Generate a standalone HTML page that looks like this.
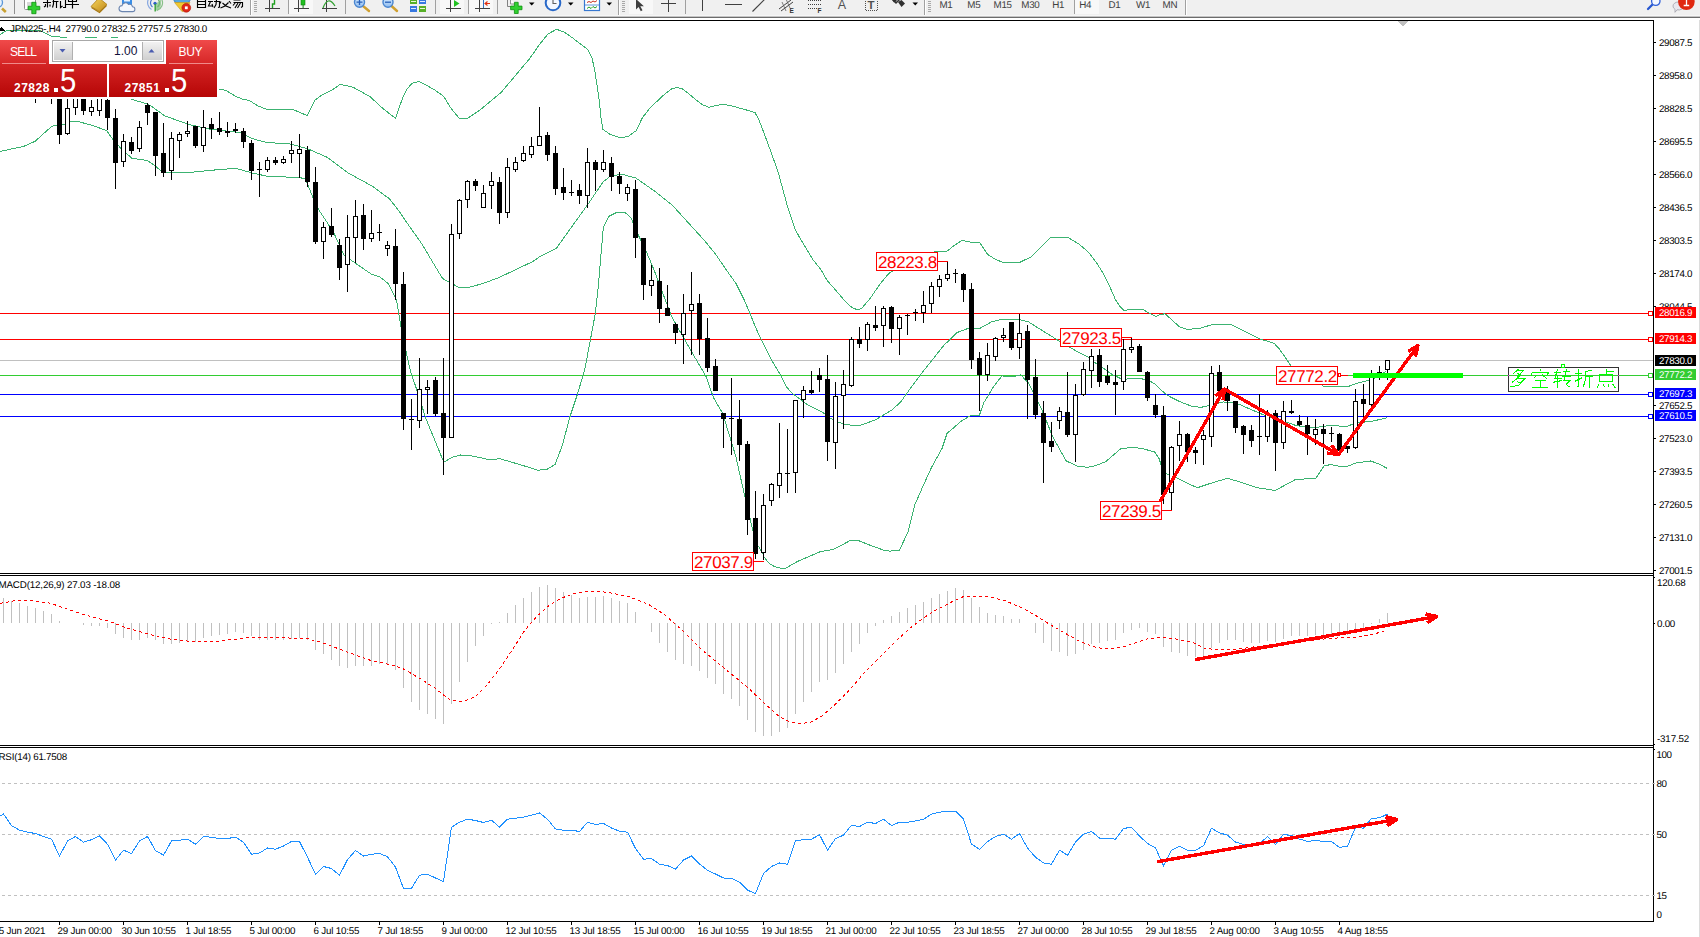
<!DOCTYPE html>
<html><head><meta charset="utf-8"><title>JPN225 H4</title>
<style>
html,body{margin:0;padding:0;background:#fff;}
body{width:1700px;height:937px;overflow:hidden;position:relative;font-family:"Liberation Sans",sans-serif;}
.t{position:absolute;white-space:pre;font-family:"Liberation Sans",sans-serif;z-index:2;text-rendering:geometricPrecision;}
svg.c{position:absolute;left:0;top:0;z-index:1;}
#tb{position:absolute;left:0;top:0;width:1700px;height:20px;z-index:4;overflow:hidden;}
</style></head><body>
<svg class="c" width="1700" height="937" viewBox="0 0 1700 937" shape-rendering="crispEdges">
<defs><clipPath id="cm"><rect x="0" y="21" width="1653" height="552"/></clipPath></defs>
<g clip-path="url(#cm)">
<rect x="0" y="313" width="1653" height="1" fill="#ff0000" />
<rect x="0" y="339" width="1653" height="1" fill="#ff0000" />
<rect x="0" y="360" width="1653" height="1" fill="#c0c0c0" />
<rect x="0" y="375" width="1653" height="1" fill="#32cd32" />
<rect x="0" y="394" width="1653" height="1" fill="#0000ff" />
<rect x="0" y="416" width="1653" height="1" fill="#0000ff" />
<polyline points="0.0,34.7 5.3,31.2 9.2,30.3 38.0,30.3 41.6,31.2 51.2,36.3 65.0,37.4 75.0,40.5 88.0,37.4 95.0,37.4 104.0,40.5 113.0,37.4 117.0,37.4 122.0,41.0 150.0,60.0 200.0,80.0 217.0,88.8 219.5,89.4 225.9,90.3 235.4,96.2 242.6,99.1 249.7,100.7 257.6,105.7 266.4,109.2 292.6,109.2 298.9,112.1 307.2,115.6 310.9,108.1 314.8,100.2 321.2,95.4 332.3,89.9 340.2,84.3 352.9,87.2 360.9,91.4 370.4,97.0 381.5,107.3 389.5,113.7 395.5,118.1 399.0,108.1 403.0,97.0 407.0,89.1 411.7,83.5 418.9,81.4 426.0,85.1 434.7,89.9 443.5,96.2 451.4,108.9 459.4,118.4 467.3,118.4 480.0,110.0 501.2,92.4 515.0,76.0 529.5,58.8 540.0,43.8 548.0,34.0 556.5,29.3 564.0,32.0 573.0,38.2 588.0,49.8 592.0,58.0 594.6,69.6 597.0,85.0 599.5,102.7 601.0,118.0 602.9,129.2 609.5,134.1 619.4,137.4 627.7,136.8 636.0,130.8 642.5,117.6 650.0,108.0 659.0,99.4 666.0,93.0 672.3,88.5 677.0,87.5 682.2,88.8 689.0,94.0 695.5,99.4 702.0,104.5 708.7,107.3 716.0,105.5 723.6,104.4 732.0,106.0 741.8,108.7 750.0,111.0 755.0,112.6 759.0,120.0 765.0,135.8 771.0,152.0 778.2,172.2 783.0,190.0 788.1,208.6 794.7,228.4 800.0,238.3 807.2,250.0 812.9,259.6 820.6,269.2 827.3,280.7 835.0,289.4 846.3,302.6 852.0,307.5 857.7,310.0 862.0,308.0 870.6,297.9 880.0,284.0 889.1,273.2 900.0,266.0 911.8,260.9 925.0,255.0 936.5,251.2 946.8,251.2 955.0,245.0 962.2,240.3 971.5,242.4 979.7,242.4 984.0,249.0 987.9,254.7 995.0,259.0 1002.4,262.3 1019.9,262.3 1031.2,256.8 1041.0,247.0 1050.7,237.6 1068.2,237.6 1079.0,244.0 1088.8,252.6 1096.0,262.0 1103.2,273.2 1110.0,287.3 1115.6,300.0 1120.0,306.5 1123.8,310.3 1133.0,309.5 1142.4,309.3 1149.0,313.0 1155.7,316.5 1160.0,314.5 1165.0,313.8 1172.0,320.0 1179.4,326.8 1187.6,329.4 1200.0,328.2 1211.0,325.0 1222.0,324.0 1231.7,325.0 1244.5,331.4 1259.4,338.9 1267.0,341.0 1274.4,343.6 1279.0,348.5 1284.0,355.6 1290.4,365.2 1300.0,378.0 1310.0,384.5 1322.0,385.0 1323.5,386.5 1348.3,386.5 1356.0,383.5 1368.9,380.4 1378.5,376.4 1386.5,370.8" fill="none" stroke="#3cb371" stroke-width="1" />
<polyline points="100.0,75.0 131.2,99.2 147.0,103.9 151.8,106.5 164.7,115.9 178.8,120.9 190.0,124.8 210.8,129.3 240.0,132.5 252.4,138.7 267.0,142.5 289.9,143.9 307.6,148.7 327.4,157.4 348.2,173.0 373.1,186.6 389.8,199.1 400.0,212.6 405.0,220.0 421.6,243.6 432.0,261.0 442.4,278.3 449.4,282.4 459.0,287.4 468.8,287.4 483.0,283.5 499.3,277.4 516.0,269.5 532.6,261.6 540.0,256.5 556.5,248.2 573.0,225.1 589.6,201.9 602.9,182.1 611.1,175.5 622.7,174.5 636.0,178.1 655.8,192.0 672.3,205.2 688.9,223.4 705.4,241.6 716.0,254.8 726.5,270.2 736.1,283.6 743.8,299.0 749.6,312.4 755.3,326.8 761.1,339.3 770.7,358.5 780.3,374.8 786.0,386.3 791.8,393.0 799.5,398.8 807.2,404.6 814.8,408.4 822.5,412.2 830.2,418.0 835.0,420.9 846.3,424.7 859.3,425.7 875.6,419.8 891.9,410.0 900.7,402.0 911.0,387.5 922.0,372.7 933.0,359.0 943.3,346.0 956.7,332.7 967.3,328.7 979.3,328.7 991.3,322.0 1002.0,319.3 1018.0,319.3 1028.7,322.0 1039.3,328.7 1060.7,342.0 1076.7,351.3 1092.7,359.3 1094.3,362.2 1102.0,367.2 1109.2,372.5 1113.0,374.9 1118.8,377.6 1121.2,379.0 1126.5,379.5 1127.9,378.5 1141.9,378.5 1142.8,379.6 1144.7,379.6 1150.0,381.2 1154.8,383.8 1159.6,388.6 1164.9,393.4 1170.0,396.8 1180.4,401.9 1193.2,406.8 1201.8,407.2 1210.3,405.1 1223.1,401.9 1235.9,402.9 1253.0,410.4 1265.8,415.8 1275.0,419.0 1284.0,421.3 1296.8,425.8 1314.4,427.7 1330.5,425.3 1346.5,426.6 1356.0,422.9 1372.0,421.3 1387.3,417.7" fill="none" stroke="#3cb371" stroke-width="1" />
<polyline points="0.0,151.4 23.5,146.5 35.3,141.2 51.8,126.2 63.5,124.7 71.8,121.2 77.0,121.2 94.0,125.9 106.5,130.6 113.0,139.4 121.2,148.8 131.8,158.2 147.0,160.4 155.3,165.9 161.8,171.8 164.7,172.7 190.0,172.4 210.8,170.3 235.8,168.3 252.4,173.0 267.0,176.2 300.3,177.6 305.5,179.3 312.8,197.0 319.0,210.1 333.6,232.4 344.0,255.2 354.4,262.5 371.1,274.0 380.0,276.9 388.3,283.8 396.6,300.5 400.8,325.4 406.4,353.2 410.5,371.2 417.5,392.0 425.8,418.4 435.5,442.0 443.8,462.2 452.1,457.2 460.5,455.0 468.8,455.3 491.0,460.0 499.3,458.6 518.7,464.2 538.2,470.3 547.5,469.1 555.0,464.6 562.4,445.2 569.9,416.8 577.4,394.4 584.9,369.0 590.8,337.6 595.3,313.6 598.3,286.7 601.3,250.8 603.4,226.9 608.8,216.4 616.3,212.6 625.2,212.6 631.2,217.9 635.7,229.9 644.7,247.8 653.6,268.8 662.6,292.7 671.6,316.6 683.5,337.6 695.5,358.5 706.0,376.4 713.4,397.4 722.6,413.3 735.6,455.6 743.7,491.4 755.1,540.3 758.0,545.8 761.8,551.6 764.4,557.5 769.7,564.0 775.0,566.7 777.9,567.6 784.4,568.9 797.5,561.4 820.3,551.7 833.3,549.4 849.6,540.9 859.3,540.9 872.3,546.1 885.4,550.7 890.0,551.1 899.4,550.1 907.7,532.8 911.8,517.2 914.9,504.7 921.2,490.2 931.6,467.3 942.0,448.6 947.2,433.0 952.4,428.9 960.7,421.6 970.0,415.8 979.4,415.3 983.6,402.9 986.0,399.3 994.0,386.0 1002.0,375.9 1012.7,376.7 1020.7,374.8 1028.7,383.3 1042.0,410.0 1052.7,436.7 1066.0,460.7 1076.7,466.0 1087.3,467.3 1095.0,465.9 1105.7,461.7 1120.6,448.9 1131.3,447.4 1142.0,448.4 1154.8,452.1 1159.1,458.5 1163.3,472.3 1176.1,477.7 1189.0,484.1 1197.5,487.7 1210.3,483.4 1227.4,478.3 1240.2,482.0 1257.3,487.7 1275.0,490.5 1295.2,479.7 1316.0,478.1 1324.0,466.1 1330.5,464.5 1338.5,466.1 1348.0,466.1 1356.0,462.9 1370.5,461.0 1378.5,463.7 1387.3,468.5" fill="none" stroke="#3cb371" stroke-width="1" />
<rect x="35" y="90" width="1" height="13" fill="#000" />
<rect x="33" y="90" width="5" height="1" fill="#000" />
<rect x="51" y="90" width="1" height="14" fill="#000" />
<rect x="49" y="90" width="5" height="1" fill="#000" />
<rect x="59" y="90" width="1" height="54" fill="#000" />
<rect x="57" y="90" width="5" height="45" fill="#000" />
<rect x="67" y="90" width="1" height="45" fill="#000" />
<rect x="65" y="108" width="5" height="26" fill="#000" />
<rect x="66" y="109" width="3" height="24" fill="#fff" />
<rect x="75" y="90" width="1" height="25" fill="#000" />
<rect x="73" y="90" width="5" height="18" fill="#000" />
<rect x="74" y="91" width="3" height="16" fill="#fff" />
<rect x="83" y="90" width="1" height="25" fill="#000" />
<rect x="81" y="90" width="5" height="21" fill="#000" />
<rect x="91" y="100" width="1" height="16" fill="#000" />
<rect x="89" y="107" width="5" height="5" fill="#000" />
<rect x="90" y="108" width="3" height="3" fill="#fff" />
<rect x="99" y="90" width="1" height="26" fill="#000" />
<rect x="97" y="90" width="5" height="21" fill="#000" />
<rect x="98" y="91" width="3" height="19" fill="#fff" />
<rect x="107" y="90" width="1" height="40" fill="#000" />
<rect x="105" y="100" width="5" height="18" fill="#000" />
<rect x="115" y="109" width="1" height="80" fill="#000" />
<rect x="113" y="118" width="5" height="45" fill="#000" />
<rect x="123" y="134" width="1" height="33" fill="#000" />
<rect x="121" y="141" width="5" height="21" fill="#000" />
<rect x="122" y="142" width="3" height="19" fill="#fff" />
<rect x="131" y="137" width="1" height="17" fill="#000" />
<rect x="129" y="142" width="5" height="9" fill="#000" />
<rect x="139" y="121" width="1" height="31" fill="#000" />
<rect x="137" y="127" width="5" height="22" fill="#000" />
<rect x="138" y="128" width="3" height="20" fill="#fff" />
<rect x="147" y="103" width="1" height="22" fill="#000" />
<rect x="145" y="105" width="5" height="8" fill="#000" />
<rect x="155" y="112" width="1" height="64" fill="#000" />
<rect x="153" y="112" width="5" height="44" fill="#000" />
<rect x="163" y="123" width="1" height="54" fill="#000" />
<rect x="161" y="153" width="5" height="20" fill="#000" />
<rect x="171" y="132" width="1" height="48" fill="#000" />
<rect x="169" y="138" width="5" height="33" fill="#000" />
<rect x="170" y="139" width="3" height="31" fill="#fff" />
<rect x="179" y="132" width="1" height="26" fill="#000" />
<rect x="177" y="134" width="5" height="7" fill="#000" />
<rect x="178" y="135" width="3" height="5" fill="#fff" />
<rect x="187" y="121" width="1" height="16" fill="#000" />
<rect x="185" y="131" width="5" height="3" fill="#000" />
<rect x="186" y="132" width="3" height="1" fill="#fff" />
<rect x="195" y="126" width="1" height="22" fill="#000" />
<rect x="193" y="126" width="5" height="20" fill="#000" />
<rect x="203" y="110" width="1" height="42" fill="#000" />
<rect x="201" y="127" width="5" height="19" fill="#000" />
<rect x="202" y="128" width="3" height="17" fill="#fff" />
<rect x="211" y="118" width="1" height="21" fill="#000" />
<rect x="209" y="124" width="5" height="5" fill="#000" />
<rect x="219" y="112" width="1" height="23" fill="#000" />
<rect x="217" y="128" width="5" height="4" fill="#000" />
<rect x="227" y="122" width="1" height="15" fill="#000" />
<rect x="225" y="131" width="5" height="2" fill="#000" />
<rect x="235" y="123" width="1" height="10" fill="#000" />
<rect x="233" y="129" width="5" height="2" fill="#000" />
<rect x="243" y="128" width="1" height="20" fill="#000" />
<rect x="241" y="131" width="5" height="11" fill="#000" />
<rect x="251" y="140" width="1" height="40" fill="#000" />
<rect x="249" y="143" width="5" height="28" fill="#000" />
<rect x="259" y="162" width="1" height="35" fill="#000" />
<rect x="257" y="169" width="5" height="1" fill="#000" />
<rect x="267" y="157" width="1" height="15" fill="#000" />
<rect x="265" y="160" width="5" height="10" fill="#000" />
<rect x="266" y="161" width="3" height="8" fill="#fff" />
<rect x="275" y="157" width="1" height="8" fill="#000" />
<rect x="273" y="160" width="5" height="3" fill="#000" />
<rect x="283" y="156" width="1" height="8" fill="#000" />
<rect x="281" y="159" width="5" height="4" fill="#000" />
<rect x="282" y="160" width="3" height="2" fill="#fff" />
<rect x="291" y="141" width="1" height="22" fill="#000" />
<rect x="289" y="150" width="5" height="4" fill="#000" />
<rect x="290" y="151" width="3" height="2" fill="#fff" />
<rect x="299" y="134" width="1" height="44" fill="#000" />
<rect x="297" y="149" width="5" height="5" fill="#000" />
<rect x="298" y="150" width="3" height="3" fill="#fff" />
<rect x="307" y="146" width="1" height="41" fill="#000" />
<rect x="305" y="150" width="5" height="32" fill="#000" />
<rect x="315" y="167" width="1" height="77" fill="#000" />
<rect x="313" y="182" width="5" height="60" fill="#000" />
<rect x="323" y="222" width="1" height="37" fill="#000" />
<rect x="321" y="227" width="5" height="15" fill="#000" />
<rect x="322" y="228" width="3" height="13" fill="#fff" />
<rect x="331" y="208" width="1" height="29" fill="#000" />
<rect x="329" y="226" width="5" height="9" fill="#000" />
<rect x="339" y="239" width="1" height="41" fill="#000" />
<rect x="337" y="245" width="5" height="23" fill="#000" />
<rect x="347" y="215" width="1" height="77" fill="#000" />
<rect x="345" y="237" width="5" height="28" fill="#000" />
<rect x="346" y="238" width="3" height="26" fill="#fff" />
<rect x="355" y="200" width="1" height="63" fill="#000" />
<rect x="353" y="216" width="5" height="22" fill="#000" />
<rect x="354" y="217" width="3" height="20" fill="#fff" />
<rect x="363" y="204" width="1" height="46" fill="#000" />
<rect x="361" y="215" width="5" height="24" fill="#000" />
<rect x="371" y="210" width="1" height="32" fill="#000" />
<rect x="369" y="233" width="5" height="6" fill="#000" />
<rect x="370" y="234" width="3" height="4" fill="#fff" />
<rect x="379" y="224" width="1" height="17" fill="#000" />
<rect x="377" y="232" width="5" height="1" fill="#000" />
<rect x="387" y="241" width="1" height="15" fill="#000" />
<rect x="385" y="245" width="5" height="4" fill="#000" />
<rect x="386" y="246" width="3" height="2" fill="#fff" />
<rect x="395" y="229" width="1" height="71" fill="#000" />
<rect x="393" y="246" width="5" height="38" fill="#000" />
<rect x="403" y="272" width="1" height="158" fill="#000" />
<rect x="401" y="284" width="5" height="135" fill="#000" />
<rect x="411" y="399" width="1" height="51" fill="#000" />
<rect x="409" y="419" width="5" height="1" fill="#000" />
<rect x="419" y="358" width="1" height="70" fill="#000" />
<rect x="417" y="389" width="5" height="32" fill="#000" />
<rect x="418" y="390" width="3" height="30" fill="#fff" />
<rect x="427" y="380" width="1" height="34" fill="#000" />
<rect x="425" y="387" width="5" height="3" fill="#000" />
<rect x="426" y="388" width="3" height="1" fill="#fff" />
<rect x="435" y="377" width="1" height="39" fill="#000" />
<rect x="433" y="380" width="5" height="34" fill="#000" />
<rect x="443" y="358" width="1" height="117" fill="#000" />
<rect x="441" y="413" width="5" height="25" fill="#000" />
<rect x="451" y="224" width="1" height="214" fill="#000" />
<rect x="449" y="234" width="5" height="204" fill="#000" />
<rect x="450" y="235" width="3" height="202" fill="#fff" />
<rect x="459" y="199" width="1" height="40" fill="#000" />
<rect x="457" y="200" width="5" height="34" fill="#000" />
<rect x="458" y="201" width="3" height="32" fill="#fff" />
<rect x="467" y="180" width="1" height="28" fill="#000" />
<rect x="465" y="181" width="5" height="19" fill="#000" />
<rect x="466" y="182" width="3" height="17" fill="#fff" />
<rect x="475" y="179" width="1" height="12" fill="#000" />
<rect x="473" y="181" width="5" height="5" fill="#000" />
<rect x="483" y="185" width="1" height="23" fill="#000" />
<rect x="481" y="193" width="5" height="15" fill="#000" />
<rect x="482" y="194" width="3" height="13" fill="#fff" />
<rect x="491" y="172" width="1" height="37" fill="#000" />
<rect x="489" y="181" width="5" height="5" fill="#000" />
<rect x="490" y="182" width="3" height="3" fill="#fff" />
<rect x="499" y="177" width="1" height="47" fill="#000" />
<rect x="497" y="182" width="5" height="31" fill="#000" />
<rect x="507" y="158" width="1" height="60" fill="#000" />
<rect x="505" y="167" width="5" height="46" fill="#000" />
<rect x="506" y="168" width="3" height="44" fill="#fff" />
<rect x="515" y="157" width="1" height="15" fill="#000" />
<rect x="513" y="162" width="5" height="8" fill="#000" />
<rect x="514" y="163" width="3" height="6" fill="#fff" />
<rect x="523" y="146" width="1" height="16" fill="#000" />
<rect x="521" y="153" width="5" height="8" fill="#000" />
<rect x="522" y="154" width="3" height="6" fill="#fff" />
<rect x="531" y="137" width="1" height="21" fill="#000" />
<rect x="529" y="146" width="5" height="9" fill="#000" />
<rect x="530" y="147" width="3" height="7" fill="#fff" />
<rect x="539" y="107" width="1" height="39" fill="#000" />
<rect x="537" y="136" width="5" height="10" fill="#000" />
<rect x="538" y="137" width="3" height="8" fill="#fff" />
<rect x="547" y="132" width="1" height="29" fill="#000" />
<rect x="545" y="135" width="5" height="20" fill="#000" />
<rect x="555" y="146" width="1" height="49" fill="#000" />
<rect x="553" y="153" width="5" height="36" fill="#000" />
<rect x="563" y="168" width="1" height="32" fill="#000" />
<rect x="561" y="187" width="5" height="6" fill="#000" />
<rect x="571" y="180" width="1" height="16" fill="#000" />
<rect x="569" y="192" width="5" height="1" fill="#000" />
<rect x="579" y="184" width="1" height="20" fill="#000" />
<rect x="577" y="190" width="5" height="6" fill="#000" />
<rect x="587" y="148" width="1" height="60" fill="#000" />
<rect x="585" y="162" width="5" height="34" fill="#000" />
<rect x="586" y="163" width="3" height="32" fill="#fff" />
<rect x="595" y="160" width="1" height="31" fill="#000" />
<rect x="593" y="162" width="5" height="8" fill="#000" />
<rect x="603" y="150" width="1" height="22" fill="#000" />
<rect x="601" y="162" width="5" height="8" fill="#000" />
<rect x="602" y="163" width="3" height="6" fill="#fff" />
<rect x="611" y="157" width="1" height="34" fill="#000" />
<rect x="609" y="163" width="5" height="14" fill="#000" />
<rect x="619" y="172" width="1" height="22" fill="#000" />
<rect x="617" y="176" width="5" height="8" fill="#000" />
<rect x="627" y="184" width="1" height="17" fill="#000" />
<rect x="625" y="187" width="5" height="7" fill="#000" />
<rect x="626" y="188" width="3" height="5" fill="#fff" />
<rect x="635" y="180" width="1" height="78" fill="#000" />
<rect x="633" y="189" width="5" height="49" fill="#000" />
<rect x="643" y="238" width="1" height="62" fill="#000" />
<rect x="641" y="238" width="5" height="47" fill="#000" />
<rect x="651" y="265" width="1" height="31" fill="#000" />
<rect x="649" y="280" width="5" height="6" fill="#000" />
<rect x="650" y="281" width="3" height="4" fill="#fff" />
<rect x="659" y="268" width="1" height="55" fill="#000" />
<rect x="657" y="281" width="5" height="28" fill="#000" />
<rect x="667" y="285" width="1" height="31" fill="#000" />
<rect x="665" y="308" width="5" height="8" fill="#000" />
<rect x="675" y="323" width="1" height="21" fill="#000" />
<rect x="673" y="324" width="5" height="9" fill="#000" />
<rect x="683" y="294" width="1" height="70" fill="#000" />
<rect x="681" y="313" width="5" height="22" fill="#000" />
<rect x="682" y="314" width="3" height="20" fill="#fff" />
<rect x="691" y="272" width="1" height="83" fill="#000" />
<rect x="689" y="304" width="5" height="7" fill="#000" />
<rect x="690" y="305" width="3" height="5" fill="#fff" />
<rect x="699" y="294" width="1" height="61" fill="#000" />
<rect x="697" y="303" width="5" height="36" fill="#000" />
<rect x="707" y="318" width="1" height="54" fill="#000" />
<rect x="705" y="338" width="5" height="30" fill="#000" />
<rect x="715" y="359" width="1" height="32" fill="#000" />
<rect x="713" y="366" width="5" height="25" fill="#000" />
<rect x="723" y="413" width="1" height="35" fill="#000" />
<rect x="721" y="413" width="5" height="6" fill="#000" />
<rect x="731" y="378" width="1" height="77" fill="#000" />
<rect x="729" y="418" width="5" height="1" fill="#000" />
<rect x="739" y="400" width="1" height="61" fill="#000" />
<rect x="737" y="419" width="5" height="26" fill="#000" />
<rect x="747" y="441" width="1" height="94" fill="#000" />
<rect x="745" y="444" width="5" height="76" fill="#000" />
<rect x="755" y="491" width="1" height="68" fill="#000" />
<rect x="753" y="518" width="5" height="36" fill="#000" />
<rect x="763" y="494" width="1" height="66" fill="#000" />
<rect x="761" y="505" width="5" height="48" fill="#000" />
<rect x="762" y="506" width="3" height="46" fill="#fff" />
<rect x="771" y="483" width="1" height="23" fill="#000" />
<rect x="769" y="484" width="5" height="17" fill="#000" />
<rect x="770" y="485" width="3" height="15" fill="#fff" />
<rect x="779" y="423" width="1" height="75" fill="#000" />
<rect x="777" y="473" width="5" height="13" fill="#000" />
<rect x="778" y="474" width="3" height="11" fill="#fff" />
<rect x="787" y="429" width="1" height="64" fill="#000" />
<rect x="785" y="473" width="5" height="1" fill="#000" />
<rect x="795" y="400" width="1" height="93" fill="#000" />
<rect x="793" y="400" width="5" height="73" fill="#000" />
<rect x="794" y="401" width="3" height="71" fill="#fff" />
<rect x="803" y="386" width="1" height="32" fill="#000" />
<rect x="801" y="390" width="5" height="10" fill="#000" />
<rect x="802" y="391" width="3" height="8" fill="#fff" />
<rect x="811" y="371" width="1" height="23" fill="#000" />
<rect x="809" y="390" width="5" height="3" fill="#000" />
<rect x="819" y="368" width="1" height="24" fill="#000" />
<rect x="817" y="375" width="5" height="5" fill="#000" />
<rect x="827" y="355" width="1" height="106" fill="#000" />
<rect x="825" y="379" width="5" height="63" fill="#000" />
<rect x="835" y="382" width="1" height="87" fill="#000" />
<rect x="833" y="396" width="5" height="47" fill="#000" />
<rect x="834" y="397" width="3" height="45" fill="#fff" />
<rect x="843" y="370" width="1" height="59" fill="#000" />
<rect x="841" y="384" width="5" height="12" fill="#000" />
<rect x="842" y="385" width="3" height="10" fill="#fff" />
<rect x="851" y="337" width="1" height="50" fill="#000" />
<rect x="849" y="339" width="5" height="47" fill="#000" />
<rect x="850" y="340" width="3" height="45" fill="#fff" />
<rect x="859" y="327" width="1" height="21" fill="#000" />
<rect x="857" y="339" width="5" height="5" fill="#000" />
<rect x="867" y="322" width="1" height="29" fill="#000" />
<rect x="865" y="324" width="5" height="16" fill="#000" />
<rect x="866" y="325" width="3" height="14" fill="#fff" />
<rect x="875" y="306" width="1" height="25" fill="#000" />
<rect x="873" y="325" width="5" height="3" fill="#000" />
<rect x="883" y="306" width="1" height="41" fill="#000" />
<rect x="881" y="308" width="5" height="18" fill="#000" />
<rect x="882" y="309" width="3" height="16" fill="#fff" />
<rect x="891" y="306" width="1" height="37" fill="#000" />
<rect x="889" y="307" width="5" height="22" fill="#000" />
<rect x="899" y="315" width="1" height="40" fill="#000" />
<rect x="897" y="317" width="5" height="12" fill="#000" />
<rect x="898" y="318" width="3" height="10" fill="#fff" />
<rect x="907" y="314" width="1" height="21" fill="#000" />
<rect x="905" y="315" width="5" height="1" fill="#000" />
<rect x="915" y="309" width="1" height="12" fill="#000" />
<rect x="913" y="312" width="5" height="1" fill="#000" />
<rect x="923" y="291" width="1" height="32" fill="#000" />
<rect x="921" y="305" width="5" height="8" fill="#000" />
<rect x="922" y="306" width="3" height="6" fill="#fff" />
<rect x="931" y="282" width="1" height="31" fill="#000" />
<rect x="929" y="286" width="5" height="18" fill="#000" />
<rect x="930" y="287" width="3" height="16" fill="#fff" />
<rect x="939" y="275" width="1" height="22" fill="#000" />
<rect x="937" y="279" width="5" height="8" fill="#000" />
<rect x="938" y="280" width="3" height="6" fill="#fff" />
<rect x="947" y="261" width="1" height="20" fill="#000" />
<rect x="945" y="274" width="5" height="5" fill="#000" />
<rect x="946" y="275" width="3" height="3" fill="#fff" />
<rect x="955" y="269" width="1" height="14" fill="#000" />
<rect x="953" y="273" width="5" height="1" fill="#000" />
<rect x="963" y="273" width="1" height="29" fill="#000" />
<rect x="961" y="274" width="5" height="16" fill="#000" />
<rect x="971" y="283" width="1" height="86" fill="#000" />
<rect x="969" y="289" width="5" height="71" fill="#000" />
<rect x="979" y="352" width="1" height="59" fill="#000" />
<rect x="977" y="358" width="5" height="17" fill="#000" />
<rect x="987" y="343" width="1" height="38" fill="#000" />
<rect x="985" y="355" width="5" height="20" fill="#000" />
<rect x="986" y="356" width="3" height="18" fill="#fff" />
<rect x="995" y="337" width="1" height="24" fill="#000" />
<rect x="993" y="338" width="5" height="19" fill="#000" />
<rect x="994" y="339" width="3" height="17" fill="#fff" />
<rect x="1003" y="328" width="1" height="14" fill="#000" />
<rect x="1001" y="335" width="5" height="3" fill="#000" />
<rect x="1002" y="336" width="3" height="1" fill="#fff" />
<rect x="1011" y="322" width="1" height="28" fill="#000" />
<rect x="1009" y="322" width="5" height="26" fill="#000" />
<rect x="1019" y="314" width="1" height="45" fill="#000" />
<rect x="1017" y="333" width="5" height="15" fill="#000" />
<rect x="1018" y="334" width="3" height="13" fill="#fff" />
<rect x="1027" y="325" width="1" height="94" fill="#000" />
<rect x="1025" y="331" width="5" height="49" fill="#000" />
<rect x="1035" y="359" width="1" height="60" fill="#000" />
<rect x="1033" y="377" width="5" height="38" fill="#000" />
<rect x="1043" y="401" width="1" height="82" fill="#000" />
<rect x="1041" y="413" width="5" height="30" fill="#000" />
<rect x="1051" y="422" width="1" height="30" fill="#000" />
<rect x="1049" y="441" width="5" height="6" fill="#000" />
<rect x="1059" y="407" width="1" height="22" fill="#000" />
<rect x="1057" y="411" width="5" height="10" fill="#000" />
<rect x="1058" y="412" width="3" height="8" fill="#fff" />
<rect x="1067" y="372" width="1" height="65" fill="#000" />
<rect x="1065" y="412" width="5" height="23" fill="#000" />
<rect x="1075" y="384" width="1" height="78" fill="#000" />
<rect x="1073" y="395" width="5" height="40" fill="#000" />
<rect x="1074" y="396" width="3" height="38" fill="#fff" />
<rect x="1083" y="362" width="1" height="34" fill="#000" />
<rect x="1081" y="369" width="5" height="26" fill="#000" />
<rect x="1082" y="370" width="3" height="24" fill="#fff" />
<rect x="1091" y="349" width="1" height="39" fill="#000" />
<rect x="1089" y="356" width="5" height="15" fill="#000" />
<rect x="1090" y="357" width="3" height="13" fill="#fff" />
<rect x="1099" y="349" width="1" height="38" fill="#000" />
<rect x="1097" y="355" width="5" height="27" fill="#000" />
<rect x="1107" y="365" width="1" height="20" fill="#000" />
<rect x="1105" y="376" width="5" height="7" fill="#000" />
<rect x="1115" y="370" width="1" height="45" fill="#000" />
<rect x="1113" y="382" width="5" height="3" fill="#000" />
<rect x="1123" y="339" width="1" height="51" fill="#000" />
<rect x="1121" y="349" width="5" height="33" fill="#000" />
<rect x="1122" y="350" width="3" height="31" fill="#fff" />
<rect x="1131" y="337" width="1" height="16" fill="#000" />
<rect x="1129" y="347" width="5" height="3" fill="#000" />
<rect x="1130" y="348" width="3" height="1" fill="#fff" />
<rect x="1139" y="344" width="1" height="28" fill="#000" />
<rect x="1137" y="346" width="5" height="26" fill="#000" />
<rect x="1147" y="371" width="1" height="30" fill="#000" />
<rect x="1145" y="372" width="5" height="26" fill="#000" />
<rect x="1155" y="394" width="1" height="24" fill="#000" />
<rect x="1153" y="405" width="5" height="10" fill="#000" />
<rect x="1163" y="406" width="1" height="98" fill="#000" />
<rect x="1161" y="415" width="5" height="80" fill="#000" />
<rect x="1171" y="446" width="1" height="64" fill="#000" />
<rect x="1169" y="447" width="5" height="46" fill="#000" />
<rect x="1170" y="448" width="3" height="44" fill="#fff" />
<rect x="1179" y="421" width="1" height="40" fill="#000" />
<rect x="1177" y="434" width="5" height="12" fill="#000" />
<rect x="1178" y="435" width="3" height="10" fill="#fff" />
<rect x="1187" y="433" width="1" height="29" fill="#000" />
<rect x="1185" y="434" width="5" height="18" fill="#000" />
<rect x="1195" y="447" width="1" height="17" fill="#000" />
<rect x="1193" y="450" width="5" height="3" fill="#000" />
<rect x="1203" y="430" width="1" height="35" fill="#000" />
<rect x="1201" y="435" width="5" height="5" fill="#000" />
<rect x="1202" y="436" width="3" height="3" fill="#fff" />
<rect x="1211" y="366" width="1" height="81" fill="#000" />
<rect x="1209" y="373" width="5" height="64" fill="#000" />
<rect x="1210" y="374" width="3" height="62" fill="#fff" />
<rect x="1219" y="365" width="1" height="26" fill="#000" />
<rect x="1217" y="372" width="5" height="19" fill="#000" />
<rect x="1227" y="386" width="1" height="25" fill="#000" />
<rect x="1225" y="391" width="5" height="10" fill="#000" />
<rect x="1235" y="401" width="1" height="32" fill="#000" />
<rect x="1233" y="401" width="5" height="27" fill="#000" />
<rect x="1243" y="425" width="1" height="29" fill="#000" />
<rect x="1241" y="426" width="5" height="9" fill="#000" />
<rect x="1251" y="425" width="1" height="22" fill="#000" />
<rect x="1249" y="430" width="5" height="11" fill="#000" />
<rect x="1259" y="394" width="1" height="61" fill="#000" />
<rect x="1257" y="436" width="5" height="1" fill="#000" />
<rect x="1267" y="410" width="1" height="32" fill="#000" />
<rect x="1265" y="413" width="5" height="24" fill="#000" />
<rect x="1266" y="414" width="3" height="22" fill="#fff" />
<rect x="1275" y="410" width="1" height="61" fill="#000" />
<rect x="1273" y="413" width="5" height="30" fill="#000" />
<rect x="1283" y="401" width="1" height="48" fill="#000" />
<rect x="1281" y="411" width="5" height="32" fill="#000" />
<rect x="1282" y="412" width="3" height="30" fill="#fff" />
<rect x="1291" y="400" width="1" height="14" fill="#000" />
<rect x="1289" y="411" width="5" height="2" fill="#000" />
<rect x="1299" y="415" width="1" height="11" fill="#000" />
<rect x="1297" y="421" width="5" height="4" fill="#000" />
<rect x="1307" y="417" width="1" height="38" fill="#000" />
<rect x="1305" y="425" width="5" height="9" fill="#000" />
<rect x="1315" y="419" width="1" height="26" fill="#000" />
<rect x="1313" y="429" width="5" height="6" fill="#000" />
<rect x="1314" y="430" width="3" height="4" fill="#fff" />
<rect x="1323" y="424" width="1" height="40" fill="#000" />
<rect x="1321" y="429" width="5" height="5" fill="#000" />
<rect x="1331" y="427" width="1" height="15" fill="#000" />
<rect x="1329" y="433" width="5" height="1" fill="#000" />
<rect x="1339" y="433" width="1" height="21" fill="#000" />
<rect x="1337" y="434" width="5" height="17" fill="#000" />
<rect x="1347" y="446" width="1" height="7" fill="#000" />
<rect x="1345" y="446" width="5" height="3" fill="#000" />
<rect x="1355" y="389" width="1" height="60" fill="#000" />
<rect x="1353" y="401" width="5" height="47" fill="#000" />
<rect x="1354" y="402" width="3" height="45" fill="#fff" />
<rect x="1363" y="384" width="1" height="35" fill="#000" />
<rect x="1361" y="399" width="5" height="5" fill="#000" />
<rect x="1371" y="370" width="1" height="37" fill="#000" />
<rect x="1369" y="373" width="5" height="32" fill="#000" />
<rect x="1370" y="374" width="3" height="30" fill="#fff" />
<rect x="1379" y="366" width="1" height="14" fill="#000" />
<rect x="1377" y="372" width="5" height="2" fill="#000" />
<rect x="1387" y="360" width="1" height="20" fill="#000" />
<rect x="1385" y="360" width="5" height="10" fill="#000" />
<rect x="1386" y="361" width="3" height="8" fill="#fff" />
</g>
<rect x="0" y="20" width="1654" height="1" fill="#000" />
<rect x="1653" y="20" width="1" height="902" fill="#000" />
<rect x="0" y="573" width="1654" height="1" fill="#000" />
<rect x="0" y="575" width="1654" height="1" fill="#000" />
<rect x="0" y="745" width="1654" height="1" fill="#000" />
<rect x="0" y="747" width="1654" height="1" fill="#000" />
<rect x="0" y="921" width="1654" height="1" fill="#000" />
<rect x="1654" y="42" width="2" height="1" fill="#000" />
<rect x="1654" y="75" width="2" height="1" fill="#000" />
<rect x="1654" y="108" width="2" height="1" fill="#000" />
<rect x="1654" y="141" width="2" height="1" fill="#000" />
<rect x="1654" y="174" width="2" height="1" fill="#000" />
<rect x="1654" y="207" width="2" height="1" fill="#000" />
<rect x="1654" y="240" width="2" height="1" fill="#000" />
<rect x="1654" y="273" width="2" height="1" fill="#000" />
<rect x="1654" y="306" width="2" height="1" fill="#000" />
<rect x="1654" y="405" width="2" height="1" fill="#000" />
<rect x="1654" y="438" width="2" height="1" fill="#000" />
<rect x="1654" y="471" width="2" height="1" fill="#000" />
<rect x="1654" y="504" width="2" height="1" fill="#000" />
<rect x="1654" y="537" width="2" height="1" fill="#000" />
<rect x="1654" y="570" width="2" height="1" fill="#000" />
<rect x="1648.5" y="311.5" width="4" height="4" fill="#fff" stroke="#ff0000" stroke-width="1"/>
<rect x="1648.5" y="337.5" width="4" height="4" fill="#fff" stroke="#ff0000" stroke-width="1"/>
<rect x="1648.5" y="373.5" width="4" height="4" fill="#fff" stroke="#32cd32" stroke-width="1"/>
<rect x="1648.5" y="392.5" width="4" height="4" fill="#fff" stroke="#0000ff" stroke-width="1"/>
<rect x="1648.5" y="414.5" width="4" height="4" fill="#fff" stroke="#0000ff" stroke-width="1"/>
<rect x="1654" y="623" width="1" height="1" fill="#000" />
<rect x="1654" y="577" width="1" height="1" fill="#000" />
<rect x="1654" y="744" width="1" height="1" fill="#000" />
<rect x="1654" y="749" width="1" height="1" fill="#000" />
<line x1="2" y1="783.5" x2="1655" y2="783.5" stroke="#c0c0c0" stroke-width="1" stroke-dasharray="3,3"/>
<line x1="2" y1="834.5" x2="1655" y2="834.5" stroke="#c0c0c0" stroke-width="1" stroke-dasharray="3,3"/>
<line x1="2" y1="895.5" x2="1655" y2="895.5" stroke="#c0c0c0" stroke-width="1" stroke-dasharray="3,3"/>
<rect x="3" y="598" width="1" height="25" fill="#c0c0c0" />
<rect x="11" y="601" width="1" height="22" fill="#c0c0c0" />
<rect x="19" y="603" width="1" height="20" fill="#c0c0c0" />
<rect x="27" y="606" width="1" height="17" fill="#c0c0c0" />
<rect x="35" y="608" width="1" height="15" fill="#c0c0c0" />
<rect x="43" y="611" width="1" height="12" fill="#c0c0c0" />
<rect x="51" y="614" width="1" height="9" fill="#c0c0c0" />
<rect x="59" y="621" width="1" height="2" fill="#c0c0c0" />
<rect x="83" y="623" width="1" height="2" fill="#c0c0c0" />
<rect x="91" y="623" width="1" height="3" fill="#c0c0c0" />
<rect x="99" y="623" width="1" height="3" fill="#c0c0c0" />
<rect x="107" y="623" width="1" height="5" fill="#c0c0c0" />
<rect x="115" y="623" width="1" height="11" fill="#c0c0c0" />
<rect x="123" y="623" width="1" height="15" fill="#c0c0c0" />
<rect x="131" y="623" width="1" height="17" fill="#c0c0c0" />
<rect x="139" y="623" width="1" height="17" fill="#c0c0c0" />
<rect x="147" y="623" width="1" height="15" fill="#c0c0c0" />
<rect x="155" y="623" width="1" height="17" fill="#c0c0c0" />
<rect x="163" y="623" width="1" height="21" fill="#c0c0c0" />
<rect x="171" y="623" width="1" height="21" fill="#c0c0c0" />
<rect x="179" y="623" width="1" height="20" fill="#c0c0c0" />
<rect x="187" y="623" width="1" height="19" fill="#c0c0c0" />
<rect x="195" y="623" width="1" height="19" fill="#c0c0c0" />
<rect x="203" y="623" width="1" height="15" fill="#c0c0c0" />
<rect x="211" y="623" width="1" height="13" fill="#c0c0c0" />
<rect x="219" y="623" width="1" height="12" fill="#c0c0c0" />
<rect x="227" y="623" width="1" height="11" fill="#c0c0c0" />
<rect x="235" y="623" width="1" height="9" fill="#c0c0c0" />
<rect x="243" y="623" width="1" height="10" fill="#c0c0c0" />
<rect x="251" y="623" width="1" height="13" fill="#c0c0c0" />
<rect x="259" y="623" width="1" height="17" fill="#c0c0c0" />
<rect x="267" y="623" width="1" height="17" fill="#c0c0c0" />
<rect x="275" y="623" width="1" height="17" fill="#c0c0c0" />
<rect x="283" y="623" width="1" height="17" fill="#c0c0c0" />
<rect x="291" y="623" width="1" height="16" fill="#c0c0c0" />
<rect x="299" y="623" width="1" height="15" fill="#c0c0c0" />
<rect x="307" y="623" width="1" height="17" fill="#c0c0c0" />
<rect x="315" y="623" width="1" height="27" fill="#c0c0c0" />
<rect x="323" y="623" width="1" height="31" fill="#c0c0c0" />
<rect x="331" y="623" width="1" height="37" fill="#c0c0c0" />
<rect x="339" y="623" width="1" height="43" fill="#c0c0c0" />
<rect x="347" y="623" width="1" height="45" fill="#c0c0c0" />
<rect x="355" y="623" width="1" height="43" fill="#c0c0c0" />
<rect x="363" y="623" width="1" height="43" fill="#c0c0c0" />
<rect x="371" y="623" width="1" height="43" fill="#c0c0c0" />
<rect x="379" y="623" width="1" height="41" fill="#c0c0c0" />
<rect x="387" y="623" width="1" height="42" fill="#c0c0c0" />
<rect x="395" y="623" width="1" height="47" fill="#c0c0c0" />
<rect x="403" y="623" width="1" height="65" fill="#c0c0c0" />
<rect x="411" y="623" width="1" height="79" fill="#c0c0c0" />
<rect x="419" y="623" width="1" height="87" fill="#c0c0c0" />
<rect x="427" y="623" width="1" height="91" fill="#c0c0c0" />
<rect x="435" y="623" width="1" height="96" fill="#c0c0c0" />
<rect x="443" y="623" width="1" height="101" fill="#c0c0c0" />
<rect x="451" y="623" width="1" height="81" fill="#c0c0c0" />
<rect x="459" y="623" width="1" height="59" fill="#c0c0c0" />
<rect x="467" y="623" width="1" height="39" fill="#c0c0c0" />
<rect x="475" y="623" width="1" height="23" fill="#c0c0c0" />
<rect x="483" y="623" width="1" height="13" fill="#c0c0c0" />
<rect x="491" y="623" width="1" height="1" fill="#c0c0c0" />
<rect x="499" y="622" width="1" height="1" fill="#c0c0c0" />
<rect x="507" y="613" width="1" height="10" fill="#c0c0c0" />
<rect x="515" y="605" width="1" height="18" fill="#c0c0c0" />
<rect x="523" y="598" width="1" height="25" fill="#c0c0c0" />
<rect x="531" y="592" width="1" height="31" fill="#c0c0c0" />
<rect x="539" y="587" width="1" height="36" fill="#c0c0c0" />
<rect x="547" y="585" width="1" height="38" fill="#c0c0c0" />
<rect x="555" y="588" width="1" height="35" fill="#c0c0c0" />
<rect x="563" y="592" width="1" height="31" fill="#c0c0c0" />
<rect x="571" y="595" width="1" height="28" fill="#c0c0c0" />
<rect x="579" y="598" width="1" height="25" fill="#c0c0c0" />
<rect x="587" y="597" width="1" height="26" fill="#c0c0c0" />
<rect x="595" y="597" width="1" height="26" fill="#c0c0c0" />
<rect x="603" y="596" width="1" height="27" fill="#c0c0c0" />
<rect x="611" y="598" width="1" height="25" fill="#c0c0c0" />
<rect x="619" y="601" width="1" height="22" fill="#c0c0c0" />
<rect x="627" y="603" width="1" height="20" fill="#c0c0c0" />
<rect x="635" y="612" width="1" height="11" fill="#c0c0c0" />
<rect x="651" y="623" width="1" height="9" fill="#c0c0c0" />
<rect x="659" y="623" width="1" height="20" fill="#c0c0c0" />
<rect x="667" y="623" width="1" height="29" fill="#c0c0c0" />
<rect x="675" y="623" width="1" height="37" fill="#c0c0c0" />
<rect x="683" y="623" width="1" height="41" fill="#c0c0c0" />
<rect x="691" y="623" width="1" height="43" fill="#c0c0c0" />
<rect x="699" y="623" width="1" height="48" fill="#c0c0c0" />
<rect x="707" y="623" width="1" height="55" fill="#c0c0c0" />
<rect x="715" y="623" width="1" height="61" fill="#c0c0c0" />
<rect x="723" y="623" width="1" height="71" fill="#c0c0c0" />
<rect x="731" y="623" width="1" height="76" fill="#c0c0c0" />
<rect x="739" y="623" width="1" height="83" fill="#c0c0c0" />
<rect x="747" y="623" width="1" height="97" fill="#c0c0c0" />
<rect x="755" y="623" width="1" height="109" fill="#c0c0c0" />
<rect x="763" y="623" width="1" height="113" fill="#c0c0c0" />
<rect x="771" y="623" width="1" height="113" fill="#c0c0c0" />
<rect x="779" y="623" width="1" height="109" fill="#c0c0c0" />
<rect x="787" y="623" width="1" height="105" fill="#c0c0c0" />
<rect x="795" y="623" width="1" height="91" fill="#c0c0c0" />
<rect x="803" y="623" width="1" height="79" fill="#c0c0c0" />
<rect x="811" y="623" width="1" height="69" fill="#c0c0c0" />
<rect x="819" y="623" width="1" height="59" fill="#c0c0c0" />
<rect x="827" y="623" width="1" height="57" fill="#c0c0c0" />
<rect x="835" y="623" width="1" height="50" fill="#c0c0c0" />
<rect x="843" y="623" width="1" height="41" fill="#c0c0c0" />
<rect x="851" y="623" width="1" height="29" fill="#c0c0c0" />
<rect x="859" y="623" width="1" height="21" fill="#c0c0c0" />
<rect x="867" y="623" width="1" height="10" fill="#c0c0c0" />
<rect x="875" y="623" width="1" height="3" fill="#c0c0c0" />
<rect x="883" y="620" width="1" height="3" fill="#c0c0c0" />
<rect x="891" y="616" width="1" height="7" fill="#c0c0c0" />
<rect x="899" y="612" width="1" height="11" fill="#c0c0c0" />
<rect x="907" y="608" width="1" height="15" fill="#c0c0c0" />
<rect x="915" y="605" width="1" height="18" fill="#c0c0c0" />
<rect x="923" y="602" width="1" height="21" fill="#c0c0c0" />
<rect x="931" y="598" width="1" height="25" fill="#c0c0c0" />
<rect x="939" y="594" width="1" height="29" fill="#c0c0c0" />
<rect x="947" y="591" width="1" height="32" fill="#c0c0c0" />
<rect x="955" y="588" width="1" height="35" fill="#c0c0c0" />
<rect x="963" y="590" width="1" height="33" fill="#c0c0c0" />
<rect x="971" y="598" width="1" height="25" fill="#c0c0c0" />
<rect x="979" y="607" width="1" height="16" fill="#c0c0c0" />
<rect x="987" y="613" width="1" height="10" fill="#c0c0c0" />
<rect x="995" y="615" width="1" height="8" fill="#c0c0c0" />
<rect x="1003" y="616" width="1" height="7" fill="#c0c0c0" />
<rect x="1011" y="619" width="1" height="4" fill="#c0c0c0" />
<rect x="1019" y="619" width="1" height="4" fill="#c0c0c0" />
<rect x="1035" y="623" width="1" height="10" fill="#c0c0c0" />
<rect x="1043" y="623" width="1" height="20" fill="#c0c0c0" />
<rect x="1051" y="623" width="1" height="28" fill="#c0c0c0" />
<rect x="1059" y="623" width="1" height="29" fill="#c0c0c0" />
<rect x="1067" y="623" width="1" height="33" fill="#c0c0c0" />
<rect x="1075" y="623" width="1" height="31" fill="#c0c0c0" />
<rect x="1083" y="623" width="1" height="27" fill="#c0c0c0" />
<rect x="1091" y="623" width="1" height="21" fill="#c0c0c0" />
<rect x="1099" y="623" width="1" height="20" fill="#c0c0c0" />
<rect x="1107" y="623" width="1" height="18" fill="#c0c0c0" />
<rect x="1115" y="623" width="1" height="17" fill="#c0c0c0" />
<rect x="1123" y="623" width="1" height="10" fill="#c0c0c0" />
<rect x="1131" y="623" width="1" height="7" fill="#c0c0c0" />
<rect x="1139" y="623" width="1" height="5" fill="#c0c0c0" />
<rect x="1147" y="623" width="1" height="9" fill="#c0c0c0" />
<rect x="1155" y="623" width="1" height="11" fill="#c0c0c0" />
<rect x="1163" y="623" width="1" height="24" fill="#c0c0c0" />
<rect x="1171" y="623" width="1" height="29" fill="#c0c0c0" />
<rect x="1179" y="623" width="1" height="30" fill="#c0c0c0" />
<rect x="1187" y="623" width="1" height="33" fill="#c0c0c0" />
<rect x="1195" y="623" width="1" height="34" fill="#c0c0c0" />
<rect x="1203" y="623" width="1" height="33" fill="#c0c0c0" />
<rect x="1211" y="623" width="1" height="25" fill="#c0c0c0" />
<rect x="1219" y="623" width="1" height="20" fill="#c0c0c0" />
<rect x="1227" y="623" width="1" height="17" fill="#c0c0c0" />
<rect x="1235" y="623" width="1" height="17" fill="#c0c0c0" />
<rect x="1243" y="623" width="1" height="19" fill="#c0c0c0" />
<rect x="1251" y="623" width="1" height="20" fill="#c0c0c0" />
<rect x="1259" y="623" width="1" height="20" fill="#c0c0c0" />
<rect x="1267" y="623" width="1" height="18" fill="#c0c0c0" />
<rect x="1275" y="623" width="1" height="19" fill="#c0c0c0" />
<rect x="1283" y="623" width="1" height="16" fill="#c0c0c0" />
<rect x="1291" y="623" width="1" height="13" fill="#c0c0c0" />
<rect x="1299" y="623" width="1" height="13" fill="#c0c0c0" />
<rect x="1307" y="623" width="1" height="13" fill="#c0c0c0" />
<rect x="1315" y="623" width="1" height="12" fill="#c0c0c0" />
<rect x="1323" y="623" width="1" height="12" fill="#c0c0c0" />
<rect x="1331" y="623" width="1" height="11" fill="#c0c0c0" />
<rect x="1339" y="623" width="1" height="12" fill="#c0c0c0" />
<rect x="1347" y="623" width="1" height="12" fill="#c0c0c0" />
<rect x="1355" y="623" width="1" height="7" fill="#c0c0c0" />
<rect x="1363" y="623" width="1" height="5" fill="#c0c0c0" />
<rect x="1371" y="623" width="1" height="1" fill="#c0c0c0" />
<rect x="1379" y="619" width="1" height="4" fill="#c0c0c0" />
<rect x="1387" y="613" width="1" height="10" fill="#c0c0c0" />
<polyline points="0.0,603.5 1.2,603.2 15.0,600.7 27.5,600.2 50.0,603.2 65.0,608.2 85.0,615.0 110.0,621.5 125.0,627.5 150.0,634.5 170.0,639.0 195.0,642.0 217.5,641.2 250.0,637.5 275.0,637.5 307.5,638.7 322.5,642.7 345.0,651.2 370.0,660.2 395.0,665.7 403.5,669.0 422.5,680.0 435.0,688.2 450.0,700.0 462.5,701.5 475.0,697.0 487.5,684.5 500.0,668.2 512.5,649.5 525.0,630.0 537.5,615.7 550.0,604.5 562.5,597.7 575.0,593.2 587.5,591.2 600.0,591.5 612.5,593.2 630.0,597.0 650.0,605.2 665.0,615.0 680.0,628.2 700.0,648.2 715.0,660.7 732.5,675.0 750.0,689.5 765.0,704.0 780.0,717.0 790.0,722.0 802.5,723.5 811.2,722.0 822.5,715.7 835.0,704.5 850.0,689.5 865.0,672.0 880.0,657.0 895.0,642.0 910.0,628.2 925.0,617.0 935.0,610.7 950.0,602.7 962.5,597.0 975.0,596.2 990.0,597.0 1005.0,600.7 1020.0,607.0 1035.0,615.0 1050.0,624.5 1065.0,633.2 1080.0,641.5 1092.5,646.5 1105.0,649.0 1120.0,647.7 1132.5,644.0 1147.5,638.7 1160.0,637.5 1175.0,638.7 1182.6,640.5 1192.4,642.2 1196.8,644.3 1202.9,647.9 1215.3,649.6 1227.6,650.0 1240.0,648.8 1260.0,646.0 1290.0,642.5 1322.9,639.1 1333.5,638.2 1345.9,637.6 1356.5,637.3 1365.3,635.5 1375.9,633.4 1383.8,631.5" fill="none" stroke="#ff0000" stroke-width="1" stroke-dasharray="3,3"/>
<polyline points="-4.5,819.0 3.5,814.0 11.5,825.5 19.5,830.2 27.5,832.2 35.5,833.5 43.5,836.5 51.5,839.2 59.5,856.0 67.5,841.0 75.5,836.5 83.5,842.2 91.5,839.7 99.5,836.0 107.5,844.2 115.5,860.2 123.5,850.2 131.5,853.5 139.5,841.0 147.5,836.5 155.5,850.5 163.5,855.2 171.5,841.0 179.5,840.2 187.5,839.2 195.5,844.2 203.5,836.5 211.5,837.2 219.5,838.5 227.5,838.5 235.5,837.2 243.5,842.2 251.5,854.2 259.5,853.0 267.5,848.0 275.5,849.2 283.5,846.0 291.5,841.5 299.5,841.5 307.5,857.2 315.5,874.2 323.5,866.5 331.5,868.5 339.5,875.2 347.5,859.7 355.5,850.5 363.5,856.0 371.5,854.2 379.5,853.5 387.5,856.7 395.5,867.2 403.5,888.5 411.5,888.5 419.5,875.2 427.5,874.2 435.5,878.0 443.5,881.5 451.5,827.2 459.5,822.2 467.5,819.2 475.5,820.5 483.5,822.5 491.5,820.2 499.5,827.2 507.5,819.2 515.5,818.2 523.5,817.2 531.5,815.2 539.5,813.0 547.5,819.2 555.5,829.0 563.5,830.2 571.5,830.2 579.5,831.5 587.5,822.2 595.5,824.5 603.5,823.5 611.5,828.0 619.5,831.2 627.5,832.2 635.5,848.5 643.5,859.2 651.5,858.5 659.5,864.2 667.5,865.5 675.5,869.2 683.5,860.0 691.5,856.0 699.5,864.0 707.5,870.2 715.5,874.0 723.5,878.0 731.5,878.2 739.5,882.2 747.5,890.2 755.5,893.5 763.5,873.5 771.5,866.5 779.5,863.0 787.5,864.2 795.5,841.0 803.5,839.5 811.5,839.2 819.5,834.7 827.5,850.2 835.5,838.5 843.5,835.2 851.5,825.2 859.5,826.5 867.5,822.2 875.5,823.5 883.5,819.2 891.5,825.5 899.5,822.2 907.5,822.2 915.5,821.0 923.5,819.2 931.5,814.2 939.5,812.2 947.5,811.2 955.5,811.2 963.5,819.2 971.5,844.2 979.5,849.2 987.5,841.7 995.5,836.5 1003.5,834.2 1011.5,839.2 1019.5,833.5 1027.5,848.0 1035.5,857.2 1043.5,863.0 1051.5,864.2 1059.5,850.2 1067.5,855.2 1075.5,842.2 1083.5,834.2 1091.5,831.5 1099.5,838.0 1107.5,838.0 1115.5,839.2 1123.5,828.5 1131.5,827.2 1139.5,836.0 1147.5,843.5 1155.5,847.9 1163.5,865.6 1171.5,850.2 1179.5,846.2 1187.5,850.2 1195.5,850.2 1203.5,845.8 1211.5,828.2 1219.5,832.9 1227.5,835.1 1235.5,842.1 1243.5,844.4 1251.5,844.4 1259.5,843.9 1267.5,836.5 1275.5,844.4 1283.5,834.4 1291.5,835.6 1299.5,839.1 1307.5,841.4 1315.5,840.4 1323.5,841.4 1331.5,841.4 1339.5,847.4 1347.5,846.2 1355.5,827.3 1363.5,828.2 1371.5,818.3 1379.5,817.9 1387.5,814.1" fill="none" stroke="#1e90ff" stroke-width="1" />
<rect x="59" y="922" width="1" height="3" fill="#000" />
<rect x="123" y="922" width="1" height="3" fill="#000" />
<rect x="187" y="922" width="1" height="3" fill="#000" />
<rect x="251" y="922" width="1" height="3" fill="#000" />
<rect x="315" y="922" width="1" height="3" fill="#000" />
<rect x="379" y="922" width="1" height="3" fill="#000" />
<rect x="443" y="922" width="1" height="3" fill="#000" />
<rect x="507" y="922" width="1" height="3" fill="#000" />
<rect x="571" y="922" width="1" height="3" fill="#000" />
<rect x="635" y="922" width="1" height="3" fill="#000" />
<rect x="699" y="922" width="1" height="3" fill="#000" />
<rect x="763" y="922" width="1" height="3" fill="#000" />
<rect x="827" y="922" width="1" height="3" fill="#000" />
<rect x="891" y="922" width="1" height="3" fill="#000" />
<rect x="955" y="922" width="1" height="3" fill="#000" />
<rect x="1019" y="922" width="1" height="3" fill="#000" />
<rect x="1083" y="922" width="1" height="3" fill="#000" />
<rect x="1147" y="922" width="1" height="3" fill="#000" />
<rect x="1211" y="922" width="1" height="3" fill="#000" />
<rect x="1275" y="922" width="1" height="3" fill="#000" />
<rect x="1339" y="922" width="1" height="3" fill="#000" />
<path d="M1159.5,502.5L1224.4,389.0M1224.4,389.0L1215.2,396.0M1224.4,389.0L1223.0,400.4" stroke="#ff0000" stroke-width="3.4" stroke-linecap="butt" fill="none"/>
<circle cx="1224.4" cy="389.0" r="1.70" fill="#ff0000"/><circle cx="1159.5" cy="502.5" r="1.70" fill="#ff0000"/>
<path d="M1224.4,389.0L1338.5,454.5M1338.5,454.5L1331.6,445.3M1338.5,454.5L1327.1,453.1" stroke="#ff0000" stroke-width="3.4" stroke-linecap="butt" fill="none"/>
<circle cx="1338.5" cy="454.5" r="1.70" fill="#ff0000"/><circle cx="1224.4" cy="389.0" r="1.70" fill="#ff0000"/>
<path d="M1338.5,454.5L1418.0,345.5M1418.0,345.5L1408.1,351.4M1418.0,345.5L1415.4,356.7" stroke="#ff0000" stroke-width="3.4" stroke-linecap="butt" fill="none"/>
<circle cx="1418.0" cy="345.5" r="1.70" fill="#ff0000"/><circle cx="1338.5" cy="454.5" r="1.70" fill="#ff0000"/>
<path d="M1196.8,659.3L1436.8,616.5M1436.8,616.5L1425.6,613.9M1436.8,616.5L1427.2,622.8" stroke="#ff0000" stroke-width="3.4" stroke-linecap="butt" fill="none"/>
<circle cx="1436.8" cy="616.5" r="1.70" fill="#ff0000"/><circle cx="1196.8" cy="659.3" r="1.70" fill="#ff0000"/>
<path d="M1158.5,861.5L1396.8,819.4M1396.8,819.4L1385.6,816.8M1396.8,819.4L1387.2,825.7" stroke="#ff0000" stroke-width="3.4" stroke-linecap="butt" fill="none"/>
<circle cx="1396.8" cy="819.4" r="1.70" fill="#ff0000"/><circle cx="1158.5" cy="861.5" r="1.70" fill="#ff0000"/>
<rect x="1353" y="373" width="110" height="5" fill="#00ff00" />
<rect x="876.5" y="252.5" width="61" height="18" fill="#fff" stroke="#ff0000" stroke-width="1"/>
<rect x="938" y="261" width="10" height="1" fill="#ff0000" />
<rect x="1060.5" y="328.5" width="61" height="18" fill="#fff" stroke="#ff0000" stroke-width="1"/>
<rect x="1122" y="337" width="10" height="1" fill="#ff0000" />
<rect x="692.5" y="552.5" width="61" height="18" fill="#fff" stroke="#ff0000" stroke-width="1"/>
<rect x="754" y="561" width="10" height="1" fill="#ff0000" />
<rect x="1100.5" y="501.5" width="61" height="18" fill="#fff" stroke="#ff0000" stroke-width="1"/>
<rect x="1162" y="510" width="10" height="1" fill="#ff0000" />
<rect x="1276.5" y="366.5" width="61" height="18" fill="#fff" stroke="#ff0000" stroke-width="1"/>
<rect x="1341" y="375" width="7" height="1" fill="#ff0000" />
<rect x="1338.5" y="373.5" width="2" height="3" fill="#fff" stroke="#ff0000"/>
<rect x="1699" y="18" width="1" height="919" fill="#dcdcdc" />
<polygon points="-2.500,31 1.500,26.500 5.300,31" fill="#000"/>
<polygon points="1397,21 1408,21 1402.5,26.5" fill="#c0c0c0"/>
<rect x="1508.5" y="367.5" width="110" height="24" fill="#fff" stroke="#333" stroke-width="1"/>
<rect x="1509" y="375" width="110" height="1" fill="#32cd32"/>
<path transform="translate(1509.5,369) scale(0.92,0.95)" d="M10,0L4,5 M8,2H15L8,9 M8,4L11,6 M11,8L3,14 M9,10H17L10,17L1,19 M8,13L12,15" fill="none" stroke="#00ff00" stroke-width="1.15"/>
<path transform="translate(1531,369) scale(0.92,0.95)" d="M10,0V2 M1,4V7 M1,4H19L17,7 M7,6L3,10 M12,6L17,10 M4,12H16 M10,12V19 M1,19H19" fill="none" stroke="#00ff00" stroke-width="1.15"/>
<path transform="translate(1553,369) scale(0.92,0.95)" d="M1,4H9 M5,0L2,10H10 M5,7V20 M0,14L10,12 M11,3H19 M10,8H20 M15,0L13,8L12,12H19L14,16 M14,16L18,19" fill="none" stroke="#00ff00" stroke-width="1.15"/>
<path transform="translate(1575,369) scale(0.92,0.95)" d="M0,5H8 M4,0V18L2,19 M0,13L8,9 M18,1L11,3 M11,3V12L9,19 M11,8H20 M16,8V20" fill="none" stroke="#00ff00" stroke-width="1.15"/>
<path transform="translate(1597,369) scale(0.92,0.95)" d="M10,0V6 M10,3H18 M3,6H17V13H3Z M2,16L0,20 M7,16L8,19 M12,16L13,19 M17,16L20,20" fill="none" stroke="#00ff00" stroke-width="1.15"/>
<rect x="1561.5" y="364.500" width="3" height="3" fill="#fff" stroke="#00ff00" stroke-width="1"/>
<rect x="1508" y="375" width="1" height="1" fill="#ff00ff"/><rect x="1618" y="375" width="1" height="1" fill="#ff00ff"/>
</svg>
<span class="t " style="left:1659.00px;top:36.60px;font-size:9.8px;line-height:13.8px;color:#000;font-weight:normal;letter-spacing:-0.346px;">29087.5</span>
<span class="t " style="left:1659.00px;top:69.60px;font-size:9.8px;line-height:13.8px;color:#000;font-weight:normal;letter-spacing:-0.346px;">28958.0</span>
<span class="t " style="left:1659.00px;top:102.60px;font-size:9.8px;line-height:13.8px;color:#000;font-weight:normal;letter-spacing:-0.346px;">28828.5</span>
<span class="t " style="left:1659.00px;top:135.60px;font-size:9.8px;line-height:13.8px;color:#000;font-weight:normal;letter-spacing:-0.346px;">28695.5</span>
<span class="t " style="left:1659.00px;top:168.60px;font-size:9.8px;line-height:13.8px;color:#000;font-weight:normal;letter-spacing:-0.346px;">28566.0</span>
<span class="t " style="left:1659.00px;top:201.60px;font-size:9.8px;line-height:13.8px;color:#000;font-weight:normal;letter-spacing:-0.346px;">28436.5</span>
<span class="t " style="left:1659.00px;top:234.60px;font-size:9.8px;line-height:13.8px;color:#000;font-weight:normal;letter-spacing:-0.346px;">28303.5</span>
<span class="t " style="left:1659.00px;top:267.60px;font-size:9.8px;line-height:13.8px;color:#000;font-weight:normal;letter-spacing:-0.346px;">28174.0</span>
<span class="t " style="left:1659.00px;top:300.60px;font-size:9.8px;line-height:13.8px;color:#000;font-weight:normal;letter-spacing:-0.346px;">28044.5</span>
<span class="t " style="left:1659.00px;top:399.60px;font-size:9.8px;line-height:13.8px;color:#000;font-weight:normal;letter-spacing:-0.346px;">27652.5</span>
<span class="t " style="left:1659.00px;top:432.60px;font-size:9.8px;line-height:13.8px;color:#000;font-weight:normal;letter-spacing:-0.346px;">27523.0</span>
<span class="t " style="left:1659.00px;top:465.60px;font-size:9.8px;line-height:13.8px;color:#000;font-weight:normal;letter-spacing:-0.346px;">27393.5</span>
<span class="t " style="left:1659.00px;top:498.60px;font-size:9.8px;line-height:13.8px;color:#000;font-weight:normal;letter-spacing:-0.346px;">27260.5</span>
<span class="t " style="left:1659.00px;top:531.60px;font-size:9.8px;line-height:13.8px;color:#000;font-weight:normal;letter-spacing:-0.346px;">27131.0</span>
<span class="t " style="left:1659.00px;top:564.60px;font-size:9.8px;line-height:13.8px;color:#000;font-weight:normal;letter-spacing:-0.346px;">27001.5</span>
<div style="position:absolute;left:1655px;top:307px;width:41px;height:11px;background:#ff0000;z-index:3;"></div>
<span class="t " style="left:1659.00px;top:306.60px;font-size:9.8px;line-height:13.8px;color:#fff;font-weight:normal;letter-spacing:-0.346px;z-index:4;">28016.9</span>
<div style="position:absolute;left:1655px;top:333px;width:41px;height:11px;background:#ff0000;z-index:3;"></div>
<span class="t " style="left:1659.00px;top:332.60px;font-size:9.8px;line-height:13.8px;color:#fff;font-weight:normal;letter-spacing:-0.346px;z-index:4;">27914.3</span>
<div style="position:absolute;left:1655px;top:355px;width:41px;height:11px;background:#000000;z-index:3;"></div>
<span class="t " style="left:1659.00px;top:354.60px;font-size:9.8px;line-height:13.8px;color:#fff;font-weight:normal;letter-spacing:-0.346px;z-index:4;">27830.0</span>
<div style="position:absolute;left:1655px;top:369px;width:41px;height:11px;background:#32cd32;z-index:3;"></div>
<span class="t " style="left:1659.00px;top:368.60px;font-size:9.8px;line-height:13.8px;color:#fff;font-weight:normal;letter-spacing:-0.346px;z-index:4;">27772.2</span>
<div style="position:absolute;left:1655px;top:388px;width:41px;height:11px;background:#0000ff;z-index:3;"></div>
<span class="t " style="left:1659.00px;top:387.60px;font-size:9.8px;line-height:13.8px;color:#fff;font-weight:normal;letter-spacing:-0.346px;z-index:4;">27697.3</span>
<div style="position:absolute;left:1655px;top:410px;width:41px;height:11px;background:#0000ff;z-index:3;"></div>
<span class="t " style="left:1659.00px;top:409.60px;font-size:9.8px;line-height:13.8px;color:#fff;font-weight:normal;letter-spacing:-0.346px;z-index:4;">27610.5</span>
<span class="t " style="left:1657.00px;top:576.60px;font-size:9.8px;line-height:13.8px;color:#000;font-weight:normal;letter-spacing:-0.245px;">120.68</span>
<span class="t " style="left:1657.00px;top:617.60px;font-size:9.8px;line-height:13.8px;color:#000;font-weight:normal;letter-spacing:-0.270px;">0.00</span>
<span class="t " style="left:1657.00px;top:732.60px;font-size:9.8px;line-height:13.8px;color:#000;font-weight:normal;letter-spacing:-0.176px;">-317.52</span>
<span class="t " style="left:1656.60px;top:748.60px;font-size:9.8px;line-height:13.8px;color:#000;font-weight:normal;letter-spacing:-0.453px;">100</span>
<span class="t " style="left:1656.60px;top:777.60px;font-size:9.8px;line-height:13.8px;color:#000;font-weight:normal;letter-spacing:-0.453px;">80</span>
<span class="t " style="left:1656.60px;top:828.60px;font-size:9.8px;line-height:13.8px;color:#000;font-weight:normal;letter-spacing:-0.453px;">50</span>
<span class="t " style="left:1656.60px;top:889.60px;font-size:9.8px;line-height:13.8px;color:#000;font-weight:normal;letter-spacing:-0.453px;">15</span>
<span class="t " style="left:1656.60px;top:908.60px;font-size:9.8px;line-height:13.8px;color:#000;font-weight:normal;letter-spacing:0.000px;">0</span>
<span class="t " style="left:-6.50px;top:924.60px;font-size:9.8px;line-height:13.8px;color:#000;font-weight:normal;letter-spacing:-0.190px;">25 Jun 2021</span>
<span class="t " style="left:57.50px;top:924.60px;font-size:9.8px;line-height:13.8px;color:#000;font-weight:normal;letter-spacing:-0.190px;">29 Jun 00:00</span>
<span class="t " style="left:121.50px;top:924.60px;font-size:9.8px;line-height:13.8px;color:#000;font-weight:normal;letter-spacing:-0.190px;">30 Jun 10:55</span>
<span class="t " style="left:185.50px;top:924.60px;font-size:9.8px;line-height:13.8px;color:#000;font-weight:normal;letter-spacing:-0.190px;">1 Jul 18:55</span>
<span class="t " style="left:249.50px;top:924.60px;font-size:9.8px;line-height:13.8px;color:#000;font-weight:normal;letter-spacing:-0.190px;">5 Jul 00:00</span>
<span class="t " style="left:313.50px;top:924.60px;font-size:9.8px;line-height:13.8px;color:#000;font-weight:normal;letter-spacing:-0.190px;">6 Jul 10:55</span>
<span class="t " style="left:377.50px;top:924.60px;font-size:9.8px;line-height:13.8px;color:#000;font-weight:normal;letter-spacing:-0.190px;">7 Jul 18:55</span>
<span class="t " style="left:441.50px;top:924.60px;font-size:9.8px;line-height:13.8px;color:#000;font-weight:normal;letter-spacing:-0.190px;">9 Jul 00:00</span>
<span class="t " style="left:505.50px;top:924.60px;font-size:9.8px;line-height:13.8px;color:#000;font-weight:normal;letter-spacing:-0.190px;">12 Jul 10:55</span>
<span class="t " style="left:569.50px;top:924.60px;font-size:9.8px;line-height:13.8px;color:#000;font-weight:normal;letter-spacing:-0.190px;">13 Jul 18:55</span>
<span class="t " style="left:633.50px;top:924.60px;font-size:9.8px;line-height:13.8px;color:#000;font-weight:normal;letter-spacing:-0.190px;">15 Jul 00:00</span>
<span class="t " style="left:697.50px;top:924.60px;font-size:9.8px;line-height:13.8px;color:#000;font-weight:normal;letter-spacing:-0.190px;">16 Jul 10:55</span>
<span class="t " style="left:761.50px;top:924.60px;font-size:9.8px;line-height:13.8px;color:#000;font-weight:normal;letter-spacing:-0.190px;">19 Jul 18:55</span>
<span class="t " style="left:825.50px;top:924.60px;font-size:9.8px;line-height:13.8px;color:#000;font-weight:normal;letter-spacing:-0.190px;">21 Jul 00:00</span>
<span class="t " style="left:889.50px;top:924.60px;font-size:9.8px;line-height:13.8px;color:#000;font-weight:normal;letter-spacing:-0.190px;">22 Jul 10:55</span>
<span class="t " style="left:953.50px;top:924.60px;font-size:9.8px;line-height:13.8px;color:#000;font-weight:normal;letter-spacing:-0.190px;">23 Jul 18:55</span>
<span class="t " style="left:1017.50px;top:924.60px;font-size:9.8px;line-height:13.8px;color:#000;font-weight:normal;letter-spacing:-0.190px;">27 Jul 00:00</span>
<span class="t " style="left:1081.50px;top:924.60px;font-size:9.8px;line-height:13.8px;color:#000;font-weight:normal;letter-spacing:-0.190px;">28 Jul 10:55</span>
<span class="t " style="left:1145.50px;top:924.60px;font-size:9.8px;line-height:13.8px;color:#000;font-weight:normal;letter-spacing:-0.190px;">29 Jul 18:55</span>
<span class="t " style="left:1209.50px;top:924.60px;font-size:9.8px;line-height:13.8px;color:#000;font-weight:normal;letter-spacing:-0.190px;">2 Aug 00:00</span>
<span class="t " style="left:1273.50px;top:924.60px;font-size:9.8px;line-height:13.8px;color:#000;font-weight:normal;letter-spacing:-0.190px;">3 Aug 10:55</span>
<span class="t " style="left:1337.50px;top:924.60px;font-size:9.8px;line-height:13.8px;color:#000;font-weight:normal;letter-spacing:-0.190px;">4 Aug 18:55</span>
<span class="t " style="left:878.00px;top:251.70px;font-size:17px;line-height:21px;color:#ff0000;font-weight:normal;letter-spacing:-0.379px;z-index:3;">28223.8</span>
<span class="t " style="left:1062.00px;top:327.70px;font-size:17px;line-height:21px;color:#ff0000;font-weight:normal;letter-spacing:-0.379px;z-index:3;">27923.5</span>
<span class="t " style="left:694.00px;top:551.70px;font-size:17px;line-height:21px;color:#ff0000;font-weight:normal;letter-spacing:-0.379px;z-index:3;">27037.9</span>
<span class="t " style="left:1102.00px;top:500.70px;font-size:17px;line-height:21px;color:#ff0000;font-weight:normal;letter-spacing:-0.379px;z-index:3;">27239.5</span>
<span class="t " style="left:1278.00px;top:365.70px;font-size:17px;line-height:21px;color:#ff0000;font-weight:normal;letter-spacing:-0.379px;z-index:3;">27772.2</span>
<span class="t " style="left:10.00px;top:22.60px;font-size:9.8px;line-height:13.8px;color:#000;font-weight:normal;letter-spacing:-0.270px;">JPN225-,H4  27790.0 27832.5 27757.5 27830.0</span>
<span class="t " style="left:-1.50px;top:578.60px;font-size:9.8px;line-height:13.8px;color:#000;font-weight:normal;letter-spacing:-0.165px;">MACD(12,26,9) 27.03 -18.08</span>
<span class="t " style="left:-1.50px;top:750.80px;font-size:9.8px;line-height:13.8px;color:#000;font-weight:normal;letter-spacing:-0.226px;">RSI(14) 61.7508</span>
<div id="pn" style="position:absolute;left:0;top:38px;width:219px;height:61px;background:#fff;z-index:5;overflow:hidden;">
 <div style="position:absolute;left:0;top:2px;width:49px;height:25px;background:linear-gradient(#f04a4a,#d52525);"></div>
 <div style="position:absolute;left:166px;top:2px;width:51px;height:25px;background:linear-gradient(#f04a4a,#d52525);"></div>
 
 <div style="position:absolute;left:0;top:26px;width:107px;height:33px;background:linear-gradient(#d42424,#b60606);"></div>
 <div style="position:absolute;left:109px;top:26px;width:108px;height:33px;background:linear-gradient(#d42424,#b60606);"></div>
 <div style="position:absolute;left:2px;top:25px;width:44px;height:1px;background:#f08a8a;"></div>
 <div style="position:absolute;left:169px;top:25px;width:44px;height:1px;background:#f08a8a;"></div>
 <div style="position:absolute;left:50px;top:2px;width:115px;height:22px;background:#fff;"></div>
 <div style="position:absolute;left:52px;top:2px;width:110px;height:20px;background:#fff;border:1px solid #a8a8a8;"></div>
 <div style="position:absolute;left:54px;top:4px;width:18px;height:18px;background:linear-gradient(#f2f2f2,#cfcfcf);border-right:1px solid #b0b0b0;"></div>
 <div style="position:absolute;left:142px;top:4px;width:19px;height:18px;background:linear-gradient(#f2f2f2,#cfcfcf);border-left:1px solid #b0b0b0;"></div>
 <svg style="position:absolute;left:0;top:0" width="219" height="61"><polygon points="59.5,11 65.5,11 62.5,14.5" fill="#4a5cb0"/><polygon points="148.5,14.5 154.5,14.5 151.5,11" fill="#4a5cb0"/></svg>
 <span class="p" style="left:10px;top:6px;font-size:12px;line-height:16px;color:#fff;letter-spacing:-0.8px;">SELL</span>
 <span class="p" style="left:178.5px;top:6px;font-size:12px;line-height:16px;color:#fff;letter-spacing:-0.3px;">BUY</span>
 <span class="p" style="left:114px;top:5px;font-size:12px;line-height:16px;color:#10103a;">1.00</span>
 <span class="p" style="left:14px;top:42.5px;font-size:12px;line-height:14px;color:#fff;font-weight:bold;letter-spacing:0.5px;">27828</span>
 <span class="p" style="left:124.5px;top:42.5px;font-size:12px;line-height:14px;color:#fff;font-weight:bold;letter-spacing:0.5px;">27851</span>
 <span class="p" style="left:60.3px;top:23.5px;font-size:34px;line-height:36px;color:#fff;transform:scaleX(0.86);transform-origin:0 0;">5</span><div style="position:absolute;left:53.5px;top:50px;width:4px;height:4px;background:#fff;"></div>
 <span class="p" style="left:171.2px;top:23.5px;font-size:34px;line-height:36px;color:#fff;transform:scaleX(0.86);transform-origin:0 0;">5</span><div style="position:absolute;left:164.5px;top:50px;width:4px;height:4px;background:#fff;"></div>
</div>
<style>.p{position:absolute;white-space:pre;font-family:"Liberation Sans",sans-serif;}</style>

<div id="tb">
<svg width="1700" height="20" viewBox="0 0 1700 20" style="position:absolute;left:0;top:0">
<defs>
<linearGradient id="gold" x1="0" y1="0" x2="1" y2="1"><stop offset="0" stop-color="#f8d860"/><stop offset="1" stop-color="#c08818"/></linearGradient>
<linearGradient id="lens" x1="0" y1="0" x2="0" y2="1"><stop offset="0" stop-color="#d8ecff"/><stop offset="1" stop-color="#8ebcf0"/></linearGradient>
<linearGradient id="btn" x1="0" y1="0" x2="0" y2="1"><stop offset="0" stop-color="#fafafa"/><stop offset="1" stop-color="#f4f4f4"/></linearGradient>
</defs>
<rect x="0" y="0" width="1700" height="16" fill="#f0f0f0"/>
<rect x="0" y="15" width="1700" height="1" fill="#f6f6f6"/><rect x="0" y="16" width="1700" height="1" fill="#c4c4c4"/>
<rect x="0" y="17" width="1700" height="1" fill="#6c6c6c"/>
<rect x="0" y="18" width="1700" height="2" fill="#fff"/>
<!-- left magnifier fragment -->
<circle cx="-2" cy="2.500" r="4.500" fill="#e8f2fc" stroke="#5a96d8" stroke-width="1.300"/>
<line x1="2" y1="8.500" x2="5.800" y2="12" stroke="#c8a030" stroke-width="2.600" stroke-linecap="butt"/>
<rect x="14" y="0" width="1" height="14" fill="#909090" shape-rendering="crispEdges"/>
<!-- new order icon -->
<path d="M24.5,0V8.5a1,1 0 0 0 1,1H34.5a1,1 0 0 0 1,-1V0" fill="#fff" stroke="#909090"/>
<path d="M27,3h6M27,5h5" stroke="#b0b0b0"/>
<path d="M31.8,2.3h4.2v4h3.8v3.5h-3.8v3.9h-4.2v-3.9h-3.8v-3.5h3.8z" fill="#30d030" stroke="#109010" stroke-width="0.8"/>
<!-- 新订单 lower fragments -->
<g stroke="#000" stroke-width="1.15" fill="none">
<path d="M43,2.5h8M47.5,0v7.5M45.5,4v2.5M44,7l1.5,-1M50,4.5v2M52.5,1.5h6M53.5,0v4l-1,3.5M56.5,1.5v6.5"/>
<path d="M60.5,1v6.5l2,-1.5M65.5,0v7.5h-2.5"/>
<path d="M68,1.5h9M68.5,0v1.5M76.5,0v1.5M66,4.5h13M72.5,0v8.5"/>
</g>
<!-- gold book -->
<path d="M91,6.5L99,-2L107,4.5L99.5,11.5z" fill="url(#gold)" stroke="#b08018" stroke-width="0.8"/>
<path d="M91.5,7.5L99.5,12.5L106.5,5.5" fill="none" stroke="#a87810" stroke-width="1.2"/>
<!-- cloud/server -->
<rect x="122" y="-2" width="10" height="7" fill="#3a8ee6"/><rect x="124" y="0" width="6" height="1.5" fill="#e8f4ff"/>
<path d="M122,11.600a3,3 0 0 1 0,-6a3.600,3.600 0 0 1 6.500,-1.200a3,3 0 0 1 4,2.400a2.400,2.400 0 0 1 0,4.800z" fill="#f4f7fc" stroke="#6c86b0" stroke-width="1.100"/>
<!-- signal -->
<g fill="none" stroke-width="1.2"><path d="M151.5,0a5,5 0 0 0 1,7" stroke="#4a78d0"/><path d="M148.5,-1a8,8 0 0 0 3,10.5" stroke="#88a8e0"/>
<path d="M158.5,0a5,5 0 0 1 -1,7" stroke="#58a858"/><path d="M161.5,-1a8,8 0 0 1 -4.5,11.5" stroke="#88c088"/></g>
<path d="M155,3.5a8,8 0 0 0 6,-4.5v6a8,8 0 0 1 -6,6z" fill="#7cc07c" opacity="0.7"/>
<circle cx="155" cy="3.3" r="1.6" fill="#3060c8"/><rect x="154.5" y="4" width="1.3" height="7.5" fill="#30a030"/>
<!-- autotrading -->
<ellipse cx="182" cy="0.5" rx="8" ry="3" fill="#58a8e0" stroke="#3878b8" stroke-width="0.8"/>
<path d="M174.5,2.5L190,2.5L186,10.5L182,11.5z" fill="#f0c830" stroke="#c89818" stroke-width="0.6"/>
<circle cx="186.3" cy="7.8" r="4.4" fill="#e02818" stroke="#b01808" stroke-width="0.6"/><rect x="184.9" y="6.4" width="2.8" height="2.8" fill="#fff"/>
<!-- 自动交易 fragments -->
<g stroke="#000" stroke-width="1.15" fill="none">
<path d="M197.5,0v7.5h8V0M197.5,1.5h8M197.5,4.5h8"/>
<path d="M208,1.5h5M210.5,1.5l-2,4.5h4.5M212,4l1,3M214,1.5h5.5v5.5l-1.5,0.5M216.5,0l-0.5,4.5l-2,3.5"/>
<path d="M221,1.5l-1,2M229,1l2,2.5M228.5,2.5l-3.5,3.5l-4.5,2M222.5,3l3.5,3l5,2"/>
<path d="M233.500,0h7M233.500,2.500h9v4l-1.500,1M235.500,2.500l-2.500,3M238,3l-3,5M240.500,3l-3,5"/>
</g>
<!-- separators & grips -->
<g shape-rendering="crispEdges">
<rect x="250" y="0" width="1" height="15" fill="#a0a0a0"/><rect x="251" y="0" width="1" height="15" fill="#fff"/>
<rect x="435" y="0" width="1" height="14" fill="#a0a0a0"/>
<rect x="345" y="0" width="1" height="14" fill="#a0a0a0"/>
<rect x="497" y="0" width="1" height="14" fill="#a0a0a0"/>
<rect x="618" y="0" width="1" height="15" fill="#a0a0a0"/><rect x="619" y="0" width="1" height="15" fill="#fff"/>
<rect x="685" y="0" width="1" height="14" fill="#a0a0a0"/>
<rect x="924" y="0" width="1" height="15" fill="#a0a0a0"/><rect x="925" y="0" width="1" height="15" fill="#fff"/>
<rect x="1185" y="0" width="1" height="15" fill="#a0a0a0"/><rect x="1186" y="0" width="1" height="15" fill="#fff"/>
<g fill="#a8a8a8">
<rect x="254" y="1" width="3" height="1"/><rect x="254" y="3" width="3" height="1"/><rect x="254" y="5" width="3" height="1"/><rect x="254" y="7" width="3" height="1"/><rect x="254" y="9" width="3" height="1"/><rect x="254" y="11" width="3" height="1"/>
<rect x="622" y="1" width="3" height="1"/><rect x="622" y="3" width="3" height="1"/><rect x="622" y="5" width="3" height="1"/><rect x="622" y="7" width="3" height="1"/><rect x="622" y="9" width="3" height="1"/><rect x="622" y="11" width="3" height="1"/>
<rect x="928" y="1" width="3" height="1"/><rect x="928" y="3" width="3" height="1"/><rect x="928" y="5" width="3" height="1"/><rect x="928" y="7" width="3" height="1"/><rect x="928" y="9" width="3" height="1"/><rect x="928" y="11" width="3" height="1"/>
</g>
<!-- pressed button backgrounds -->
<rect x="289" y="0" width="24" height="14" fill="#f8f8f8"/><rect x="288" y="0" width="1" height="14" fill="#a0a0a0"/>
<rect x="440" y="0" width="24" height="14" fill="#f8f8f8"/>
<rect x="469" y="0" width="24" height="14" fill="#f8f8f8"/><rect x="468" y="0" width="1" height="14" fill="#a0a0a0"/>
<rect x="629" y="0" width="24" height="14" fill="#f8f8f8"/>
<rect x="1075" y="0" width="24" height="14" fill="#f8f8f8"/><rect x="1074" y="0" width="1" height="14" fill="#a0a0a0"/>
</g>
<!-- chart type icons -->
<g stroke="#404040" stroke-width="1" fill="none" shape-rendering="crispEdges">
<path d="M269.500,0v12M265,8.500h15"/><path d="M298.500,0v12M294,8.500h15"/><path d="M326.500,0v12M322,8.500h15"/>
<path d="M450.500,0v12M446,8.500h15"/><path d="M479.500,0v12M475,8.500h15"/>
</g>
<path d="M272.500,8v-4h2v-4.500" stroke="#20a020" stroke-width="1.4" fill="none"/>
<rect x="301" y="-1" width="4" height="6" fill="#20c020" stroke="#108010" stroke-width="0.6"/><rect x="302.600" y="5" width="1" height="3" fill="#108010"/>
<path d="M323,8c3,-8 7,-10 12,-2" stroke="#30a030" stroke-width="1.2" fill="none"/>
<polygon points="454,0 454,7 459.500,3.500" fill="#20c020"/>
<path d="M483.500,0v8" stroke="#3070c0" stroke-width="1"/><path d="M490,3.500h-5M487.500,1.500l-2.500,2l2.500,2" stroke="#e03010" stroke-width="1.1" fill="none"/>
<!-- zoom in / out -->
<line x1="363" y1="6" x2="369" y2="11" stroke="#d0a030" stroke-width="2.4" stroke-linecap="round"/>
<circle cx="359.500" cy="2.200" r="5" fill="url(#lens)" stroke="#4a86d0" stroke-width="1.4"/><path d="M356.500,2.200h6M359.500,-1v6" stroke="#2860b8" stroke-width="1.3"/>
<line x1="391.500" y1="6" x2="397" y2="11" stroke="#d0a030" stroke-width="2.400" stroke-linecap="round"/>
<circle cx="388" cy="2.200" r="5" fill="url(#lens)" stroke="#4a86d0" stroke-width="1.400"/><path d="M385,2.200h6" stroke="#2860b8" stroke-width="1.300"/>
<!-- tile windows -->
<g shape-rendering="crispEdges"><rect x="410" y="-1" width="7" height="5" fill="#58b028"/><rect x="419" y="-1" width="7" height="5" fill="#3878e0"/><rect x="410" y="6" width="7" height="6" fill="#3878e0"/><rect x="419" y="6" width="7" height="6" fill="#58b028"/>
<rect x="411" y="1" width="5" height="1" fill="#e8f8d8"/><rect x="420" y="1" width="5" height="1" fill="#dce8ff"/><rect x="411" y="8" width="5" height="1" fill="#dce8ff"/><rect x="420" y="8" width="5" height="1" fill="#e8f8d8"/></g>
<!-- indicators icon -->
<path d="M507.500,0v6.500h8" fill="none" stroke="#808080"/><path d="M510.500,0v4h6" fill="#fff" stroke="#909090"/>
<path d="M514.400,2.300h3.800v3.800h3.800v3.600h-3.800v3.800h-3.800v-3.800h-3.800v-3.600h3.800z" fill="#30d030" stroke="#109010" stroke-width="0.8"/>
<polygon points="529,2.500 534.500,2.500 531.700,5.500" fill="#000"/>
<!-- clock -->
<circle cx="553" cy="3" r="7.300" fill="#f4f8ff" stroke="#2868c8" stroke-width="2"/><path d="M553,-1v4.500h3.500" stroke="#606060" stroke-width="1.100" fill="none"/>
<polygon points="568,2.500 573.500,2.500 570.700,5.500" fill="#000"/>
<!-- template -->
<rect x="584.500" y="-1" width="15" height="11.500" fill="#fff" stroke="#3878d0" stroke-width="1.200"/><path d="M585,5h14" stroke="#3878d0" stroke-width="0.800"/>
<path d="M587,2.500l2,-1l2,1l2,-1.500l2,1l2,-1.500" stroke="#c83020" stroke-width="1" fill="none"/><path d="M587,8.500l2,-1.500l2,1.500l2,-2l2,1.500l2,-1.500" stroke="#20a020" stroke-width="1" fill="none"/>
<polygon points="606.500,2.500 612,2.500 609.300,5.500" fill="#000"/>
<!-- cursor -->
<path d="M636,-1V9.500l2.600,-2.600l2.200,4.300l1.700,-0.900l-2.200,-4.100h3.600z" fill="#404040"/>
<!-- crosshair -->
<g stroke="#404040" stroke-width="1" shape-rendering="crispEdges"><path d="M661,3.500h15M668.500,0v12"/><path d="M702.500,0v11"/><path d="M725,4.500h17"/></g>
<path d="M752.500,11.500L765,-1" stroke="#404040" stroke-width="1.100"/>
<!-- channel E -->
<path d="M779,9l12,-9M781,11l12,-9" stroke="#404040" stroke-width="1"/><path d="M782,2l4,9M786,-1l4,9" stroke="#606060" stroke-width="0.800"/>
<text x="789.500" y="13" font-family="Liberation Sans, sans-serif" font-size="6.500" font-weight="bold" fill="#303030">E</text>
<!-- fibo F -->
<g stroke="#404040" stroke-width="1" stroke-dasharray="1,1" shape-rendering="crispEdges"><path d="M808,0.500h13M808,4.500h13M808,8.500h10"/></g>
<text x="817.500" y="13" font-family="Liberation Sans, sans-serif" font-size="6.500" font-weight="bold" fill="#303030">F</text>
<!-- A -->
<text x="837.800" y="8.500" font-family="Liberation Sans, sans-serif" font-size="12.500" fill="#505050">A</text>
<!-- T box -->
<rect x="865.500" y="-1.500" width="11.500" height="12" fill="none" stroke="#505050" stroke-dasharray="1,1" shape-rendering="crispEdges"/>
<text x="867.400" y="8.500" font-family="Liberation Sans, sans-serif" font-size="11.500" font-weight="bold" fill="#505050">T</text>
<!-- arrows icon -->
<path d="M893,0l3,3l4.500,-4.500" stroke="#303030" stroke-width="1.500" fill="none"/><polygon points="898,3.500 901.500,1.500 905,5 901.500,8.500" fill="#303030" transform="translate(0,-1.500)"/><polygon points="892,0 895,-1.500 897,1 894,2.500" fill="#303030"/>
<polygon points="912.500,2.500 918,2.500 915.300,5.500" fill="#000"/>
<!-- right icons -->
<line x1="1648" y1="9" x2="1652.500" y2="4.500" stroke="#2858d0" stroke-width="2.300" stroke-linecap="round"/>
<circle cx="1655.800" cy="1.200" r="4.200" fill="#f4f8ff" stroke="#3060d8" stroke-width="1.300"/>
<path d="M1673,6a5.500,4 0 0 1 11,0a5.500,4 0 0 1 -7,3.800l-2,2.500v-3a5,4 0 0 1 -2,-3.300z" fill="#e8e8ee" stroke="#a0a0a8" stroke-width="0.800"/>
<circle cx="1686.400" cy="1.800" r="8.300" fill="#e02810"/>
<path d="M1684.200,-0.500l2.300,-1.700v7.500M1683.700,5.500h5.500" stroke="#fff" stroke-width="1.300" fill="none"/>
</svg>
<span class="tf" style="left:939.5px;">M1</span><span class="tf" style="left:967.3px;">M5</span><span class="tf" style="left:993.6px;">M15</span><span class="tf" style="left:1021.3px;">M30</span><span class="tf" style="left:1052.3px;">H1</span><span class="tf" style="left:1079.3px;">H4</span><span class="tf" style="left:1108.5px;">D1</span><span class="tf" style="left:1136px;">W1</span><span class="tf" style="left:1162.6px;">MN</span>
</div>
<style>.tf{position:absolute;top:-1px;font-size:9.8px;line-height:14px;color:#404040;font-family:"Liberation Sans",sans-serif;letter-spacing:-0.3px;white-space:pre;text-rendering:geometricPrecision;}</style>

</body></html>
